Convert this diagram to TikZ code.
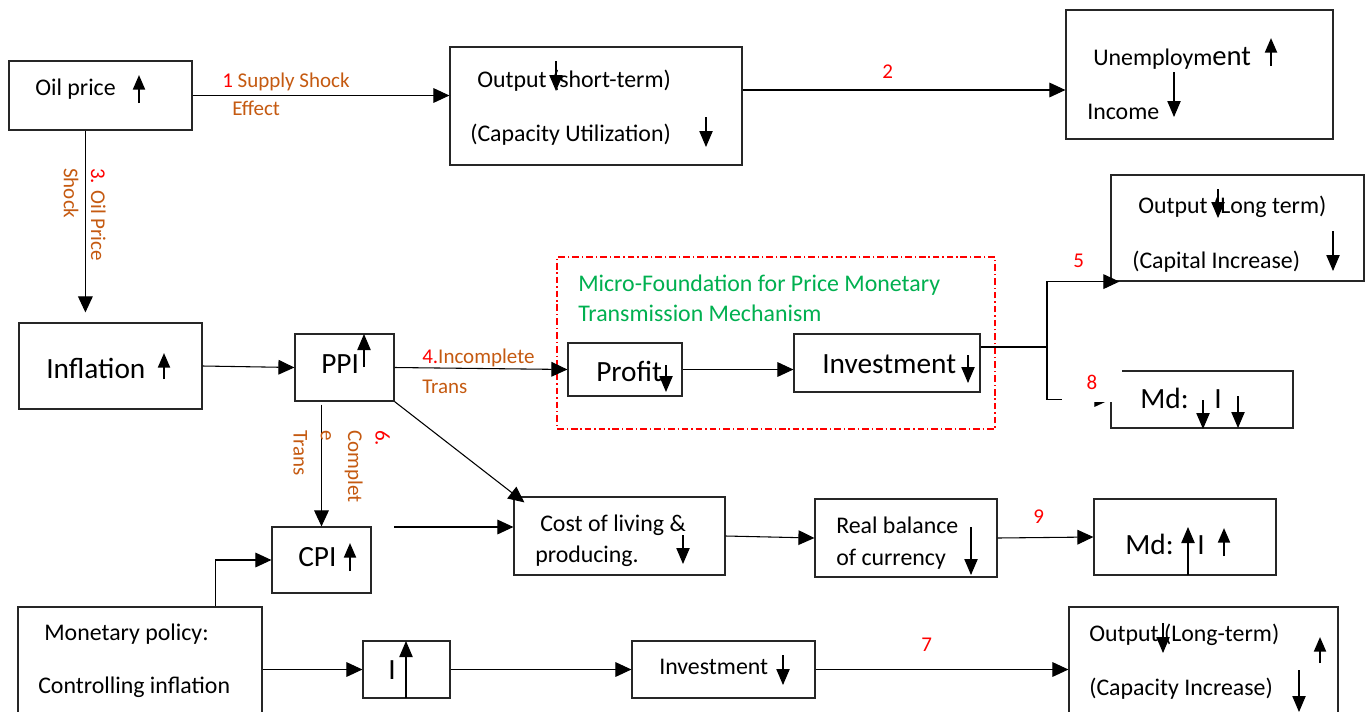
\documentclass[tikz,border=0pt]{standalone}
\usepackage{fontspec}
\setmainfont{Carlito}
\usetikzlibrary{arrows.meta,fit,calc}
\definecolor{orng}{HTML}{C55A11}
\definecolor{grn}{HTML}{00B050}
\newcommand\fsN{\fontsize{17.9pt}{21pt}\selectfont}
\newcommand\fsB{\fontsize{22pt}{26pt}\selectfont}
\newcommand\fsL{\fontsize{15.75pt}{20.5pt}\selectfont}
\begin{document}
\begin{tikzpicture}[x=0.75pt,y=-0.75pt,
 mybox/.style={draw=black!85, line width=0.9pt, inner sep=0pt},
 txt/.style={inner sep=0pt, anchor=base west, font=\fsN},
 bigtxt/.style={inner sep=0pt, anchor=base west, font=\fsB},
 lbl/.style={inner sep=0pt, anchor=base west, font=\fsL, text=orng},
 num/.style={inner sep=0pt, anchor=base west, font=\fsL, text=red},
 conn/.style={line width=0.8pt, -{Triangle[length=12pt,width=11pt]}},
 arrthin/.style={line width=0.8pt, -{Triangle[length=12pt,width=10pt]}},
 arrbold/.style={line width=1.6pt, -{Triangle[length=11pt,width=9pt]}},
]
\fill[white] (0,0) rectangle (1370,711);
\useasboundingbox (0,0) rectangle (1370,711);

% boxes
\node[mybox, fit={(9,61)(192,130)}] (oil) {};
\node[mybox, fit={(450,47)(742,165)}] (outst) {};
\node[mybox, fit={(1066,10)(1333,139)}] (unemp) {};
\node[mybox, fit={(1111,175)(1364,281)}] (outlt) {};
\node[mybox, fit={(1111,371)(1293,428)}] (mdone) {};
\node[mybox, fit={(19,323)(202,409)}] (infl) {};
\node[mybox, fit={(295,334)(394,401)}] (ppi) {};
\node[draw=red, line width=1pt, dash pattern=on 5pt off 2.2pt on 1pt off 2.2pt, inner sep=0pt, fit={(557,257)(995,429)}] (micro) {};
\node[mybox, fit={(568,343)(682,396)}] (profit) {};
\node[mybox, fit={(794,334)(980,392)}] (inv) {};
\node[mybox, fit={(272,527)(371,593)}] (cpi) {};
\node[mybox, fit={(514,497)(725,575)}] (cost) {};
\node[mybox, fit={(815,499)(997,577)}] (real) {};
\node[mybox, fit={(1094,499)(1276,575)}] (mdtwo) {};
\node[mybox, fit={(18,607)(262,714)}] (mon) {};
\node[mybox, fit={(363,641)(450,698)}] (ibox) {};
\node[mybox, fit={(632,641)(815,698)}] (invb) {};
\node[mybox, fit={(1069,607)(1338,714)}] (outltb) {};

% helper coordinates
\coordinate (yninety) at (0,90);
\coordinate (split) at (1047,347);
\coordinate (cs) at (394,527);

% connectors
\draw[conn] (oil.east) -- (outst.west |- oil.east);
\draw[conn] (outst.east |- yninety) -- (unemp.west |- yninety);
\draw[conn] ($(oil.south west)+(77,0)$) -- ($(infl.north west)+(67,-10)$);
\draw[conn] (infl.east) -- (ppi.west);
\draw[conn] (ppi.east) -- (profit.west);
\draw[conn] (profit.east) -- (profit.east -| inv.west);
\draw[line width=0.8pt] (inv.east |- split) -- (split);
\draw[conn] (split) |- ($(outlt.south west)+(9,0)$);
\draw[conn] (split) |- (mdone.west);
\draw[conn] ($(cpi.north |- ppi.south)+(0,3)$) -- (cpi.north);
\draw[conn] (ppi.south east) -- ($(cost.north west)+(11,6)$);
\draw[conn] (cs) -- (cost.west |- cs);
\draw[conn] ($(mon.north west)+(198,0)$) |- (cpi.west);
\draw[conn] (mon.east |- ibox.west) -- (ibox.west);
\draw[conn] (ibox.east) -- (invb.west);
\draw[conn] (invb.east) -- (invb.east -| outltb.west);
\draw[conn] (cost.east) -- (real.west);
\draw[conn] (real.east) -- (mdtwo.west);

% box texts
\node[txt] (toil) at (35,95) {Oil price};
\node[txt] (tost) at (477,87) {Output (short-term)};
\node[txt] (tcu) at (470,141) {(Capacity Utilization)};
\node[txt] (tun) at (1093,65) {Unemploym{\fontsize{21.5pt}{24pt}\selectfont ent}};
\node[txt] (tinc) at (1087,119) {Income};
\node[txt] (tolt) at (1138,213) {Output (Long term)};
\node[txt] (tci) at (1132,268) {(Capital Increase)};
\node[bigtxt] (tmda) at (1140,408) {Md:};
\node[bigtxt] (tmdai) at (1214,408) {I};
\node[bigtxt] (tinfl) at (46,378) {Inflation};
\node[bigtxt] (tppi) at (321,373) {PPI};
\node[bigtxt] (tcpi) at (298,566) {CPI};
\node[txt] (tmon) at (44,640) {Monetary policy:};
\node[txt] (tctl) at (38,693) {Controlling inflation};
\node[bigtxt] (ti) at (388,679) {I};
\node[txt] (tcost) at (540,531) {Cost of living \&};
\node[txt] (tprod) at (535,562) {producing.};
\node[txt] (treal) at (836,533) {Real balance};
\node[txt] (tcur) at (836,565) {of currency};
\node[bigtxt] (tmdb) at (1125,554) {Md:};
\node[bigtxt] (tmdbi) at (1197,554) {I};
\node[txt] (tinvb) at (659,674) {Investment};
\node[txt] (tolt2) at (1089,641) {Output (Long-term)};
\node[txt] (tcap) at (1089,695) {(Capacity Increase)};
\node[txt, text=grn] (tmic) at (578,291) {Micro-Foundation for Price Monetary};
\node[txt, text=grn] (tmic2) at (578,321) {Transmission Mechanism};
\node[bigtxt] (tprof) at (596,381) {Profit};
\node[bigtxt] (tinv) at (822,373) {Investment};

% connector labels
\node[lbl] (la) at (222,87) {\textcolor{red}{1} Supply Shock};
\node[lbl] (lb) at (232,115) {Effect};
\node[num] (ltwo) at (882,78) {2};
\node[lbl, rotate=-90, anchor=north west, align=left] (lthree) at (106,168) {\textcolor{red}{3.} Oil Price\\Shock};
\node[lbl] (lfour) at (422,363) {\textcolor{red}{4.}Incomplete};
\node[lbl] (lfourb) at (422,393) {Trans};
\node[num] (lfive) at (1073,267) {5};
\node[lbl, rotate=-90, anchor=north west, align=left] (lsix) at (390,430) {\textcolor{red}{6.}\\Complet\\e\\Trans};
\node[num] (lseven) at (921,651) {7};
\node[font=\fsL, text=red, fill=white, minimum width=45pt, minimum height=30pt, inner sep=0pt] (leight) at (1092,382) {8};
\node[num] (lnine) at (1033,523) {9};

% bold up arrows
\draw[arrbold] (139,103) -- (139,75);
\draw[arrbold] (164,379) -- (164,353);
\draw[arrbold] (350,571) -- (350,543);
\draw[arrbold] (1271,66) -- (1271,38);
\draw[arrbold] (1224,556) -- (1224,528);
\draw[arrbold] (1320,663) -- (1320,637);
% thin up arrows
\draw[arrthin] (364,367) -- (364,334);
\draw[arrthin] (1188,575) -- (1188,527);
\draw[arrthin] (406,698) -- (406,641);
% thin down arrows
\draw[arrthin] (556,61) -- (556,91);
\draw[arrthin] (706,117) -- (706,147);
\draw[arrthin] (1174,72) -- (1174,117);
\draw[arrthin] (1218,189) -- (1218,218);
\draw[arrthin] (1333,231) -- (1333,271);
\draw[arrthin] (1203,400) -- (1203,429);
\draw[arrthin] (1238,396) -- (1238,428);
\draw[arrthin] (666,365) -- (666,392);
\draw[arrthin] (968,355) -- (968,383);
\draw[arrthin] (683,535) -- (683,564);
\draw[arrthin] (971,527) -- (971,575);
\draw[arrthin] (783,655) -- (783,685);
\draw[arrthin] (1163,623) -- (1163,653);
\draw[arrthin] (1299,670) -- (1299,712);
\end{tikzpicture}
\end{document}
